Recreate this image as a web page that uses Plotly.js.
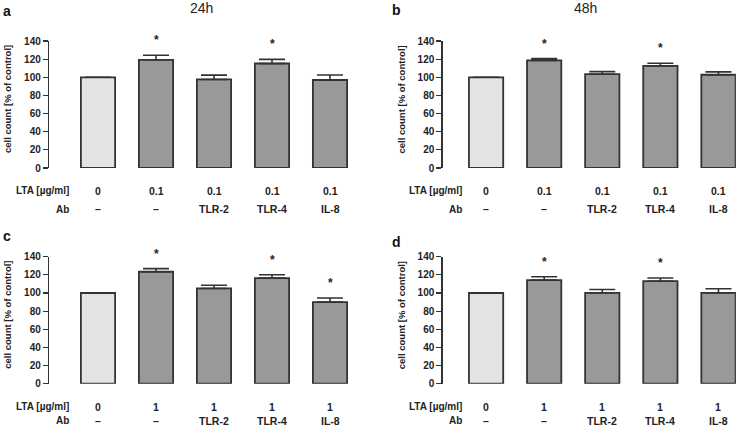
<!DOCTYPE html>
<html>
<head>
<meta charset="utf-8">
<script src="https://cdn.plot.ly/plotly-3.0.1.min.js"></script>
<style>html,body{margin:0;padding:0;background:#fff;}#chart{width:738px;height:428px;}</style>
</head>
<body>
<div id="chart"></div>
<script>
// ---- data ----
var positions = [0, 1, 2, 3, 4];
var abLabels = ['–', '–', 'TLR-2', 'TLR-4', 'IL-8'];
var ltaLow = ['0', '0.1', '0.1', '0.1', '0.1'];
var ltaHigh = ['0', '1', '1', '1', '1'];

var valA = [100, 119.3, 97.6, 115.2, 97.0];
var errA = [0, 5.0, 4.8, 4.5, 5.5];
var sigA = [0, 1, 0, 1, 0];

var valB = [100, 118.6, 103.4, 112.6, 102.8];
var errB = [0, 2.0, 2.8, 2.8, 3.2];
var sigB = [0, 1, 0, 1, 0];

var valC = [100, 123.4, 105.0, 116.4, 90.0];
var errC = [0, 3.4, 3.6, 3.7, 4.5];
var sigC = [0, 1, 0, 1, 1];

var valD = [100, 114.2, 100.2, 113.0, 100.2];
var errD = [0, 3.7, 3.6, 3.6, 4.4];
var sigD = [0, 1, 0, 1, 0];

var yTicks = [0, 20, 40, 60, 80, 100, 120, 140];
var barColors = ['#e3e3e3', '#999999', '#999999', '#999999', '#999999'];

// ---- layout helpers ----
var W = 738, H = 428;
var FONT = 'Liberation Sans, Arial, sans-serif';
var dark = '#333333';

var panels = [
  {id: '', letter: 'a', title: '24h', vals: valA, errs: errA, sig: sigA, lta: ltaLow,
   xl: 49, xr: 359, xrange: [-0.845, 4.5], yb: 168, yt: 41},
  {id: '2', letter: 'b', title: '48h', vals: valB, errs: errB, sig: sigB, lta: ltaLow,
   xl: 442.5, xr: 735.9, xrange: [-0.75, 4.3], yb: 168, yt: 41},
  {id: '3', letter: 'c', title: '', vals: valC, errs: errC, sig: sigC, lta: ltaHigh,
   xl: 49, xr: 359, xrange: [-0.845, 4.5], yb: 383.7, yt: 256.7},
  {id: '4', letter: 'd', title: '', vals: valD, errs: errD, sig: sigD, lta: ltaHigh,
   xl: 442.5, xr: 735.9, xrange: [-0.75, 4.3], yb: 383.7, yt: 256.7}
];
var letterPos = {a: [7, 11], b: [396, 10], c: [7, 236], d: [396, 242]};
var titlePos = {a: [201.5, 8.5], b: [585, 8.5]};

var traces = [];
var layout = {
  width: W, height: H,
  margin: {l: 0, r: 0, t: 0, b: 0},
  paper_bgcolor: '#ffffff', plot_bgcolor: '#ffffff',
  showlegend: false,
  font: {family: FONT, color: '#222'},
  annotations: []
};

panels.forEach(function (p) {
  var xa = 'x' + p.id, ya = 'y' + p.id;
  traces.push({
    type: 'bar', x: positions, y: p.vals, xaxis: xa, yaxis: ya,
    width: 0.59,
    marker: {color: barColors, line: {color: dark, width: 1.8}},
    error_y: {type: 'data', symmetric: false, array: p.errs,
              arrayminus: p.errs.map(function () { return 0; }),
              color: dark, thickness: 1.6, width: 13},
    hoverinfo: 'skip'
  });
  var xKey = 'xaxis' + p.id, yKey = 'yaxis' + p.id;
  layout[xKey] = {
    domain: [p.xl / W, p.xr / W], range: p.xrange, anchor: ya,
    showline: false, showticklabels: false, ticks: '', showgrid: false, zeroline: false,
    fixedrange: true
  };
  layout[yKey] = {
    domain: [1 - p.yb / H, 1 - p.yt / H], range: [0, 140], anchor: xa,
    showline: true, linecolor: dark, linewidth: 1.2,
    ticks: 'outside', ticklen: 5, tickcolor: dark, tickwidth: 1.2,
    tickvals: yTicks, ticktext: yTicks.map(String),
    tickfont: {family: FONT, size: 10, color: '#222', weight: 'bold'},
    showgrid: false, zeroline: false, fixedrange: true
  };
  // y-axis title
  layout.annotations.push({
    xref: 'paper', yref: 'paper',
    x: (p.xl - 41.5) / W, y: 1 - ((p.yb + p.yt) / 2 - 5) / H,
    text: 'cell count [% of control]', textangle: -90, showarrow: false,
    xanchor: 'center', yanchor: 'middle',
    font: {family: FONT, size: 9.5, color: '#222', weight: 'bold'}
  });
  // row labels
  var ltaY = 1 - (p.yb + 22.8) / H;
  var abY = 1 - Math.min(p.yb + 41.5, H - 7.5) / H;
  layout.annotations.push({
    xref: 'paper', yref: 'paper', x: (p.xl + 22) / W, y: ltaY,
    text: 'LTA [µg/ml]', showarrow: false, xanchor: 'right', yanchor: 'middle',
    font: {family: FONT, size: 10, color: '#222', weight: 'bold'}
  });
  layout.annotations.push({
    xref: 'paper', yref: 'paper', x: (p.xl + 22) / W, y: abY,
    text: 'Ab', showarrow: false, xanchor: 'right', yanchor: 'middle',
    font: {family: FONT, size: 10, color: '#222', weight: 'bold'}
  });
  positions.forEach(function (xv, i) {
    layout.annotations.push({
      xref: xa, yref: 'paper', x: xv, y: ltaY, text: p.lta[i], showarrow: false,
      xanchor: 'center', yanchor: 'middle',
      font: {family: FONT, size: 10.5, color: '#222', weight: 'bold'}
    });
    layout.annotations.push({
      xref: xa, yref: 'paper', x: xv, y: abY, text: abLabels[i], showarrow: false,
      xanchor: 'center', yanchor: 'middle',
      font: {family: FONT, size: 10.5, color: '#222', weight: 'bold'}
    });
    if (p.sig[i]) {
      layout.annotations.push({
        xref: xa, yref: ya, x: xv, y: p.vals[i] + p.errs[i], text: '*', showarrow: false,
        xanchor: 'center', yanchor: 'middle', yshift: 15,
        font: {family: FONT, size: 12, color: '#222', weight: 'bold'}
      });
    }
  });
  // panel letter
  var lp = letterPos[p.letter];
  layout.annotations.push({
    xref: 'paper', yref: 'paper', x: lp[0] / W, y: 1 - lp[1] / H, text: p.letter,
    showarrow: false, xanchor: 'center', yanchor: 'middle',
    font: {family: FONT, size: 14, color: '#111', weight: 'bold'}
  });
  if (p.title) {
    var tp = titlePos[p.letter];
    layout.annotations.push({
      xref: 'paper', yref: 'paper', x: tp[0] / W, y: 1 - tp[1] / H, text: p.title,
      showarrow: false, xanchor: 'center', yanchor: 'middle',
      font: {family: FONT, size: 14, color: '#222'}
    });
  }
});

Plotly.newPlot('chart', traces, layout, {staticPlot: true, displayModeBar: false});
</script>
</body>
</html>
